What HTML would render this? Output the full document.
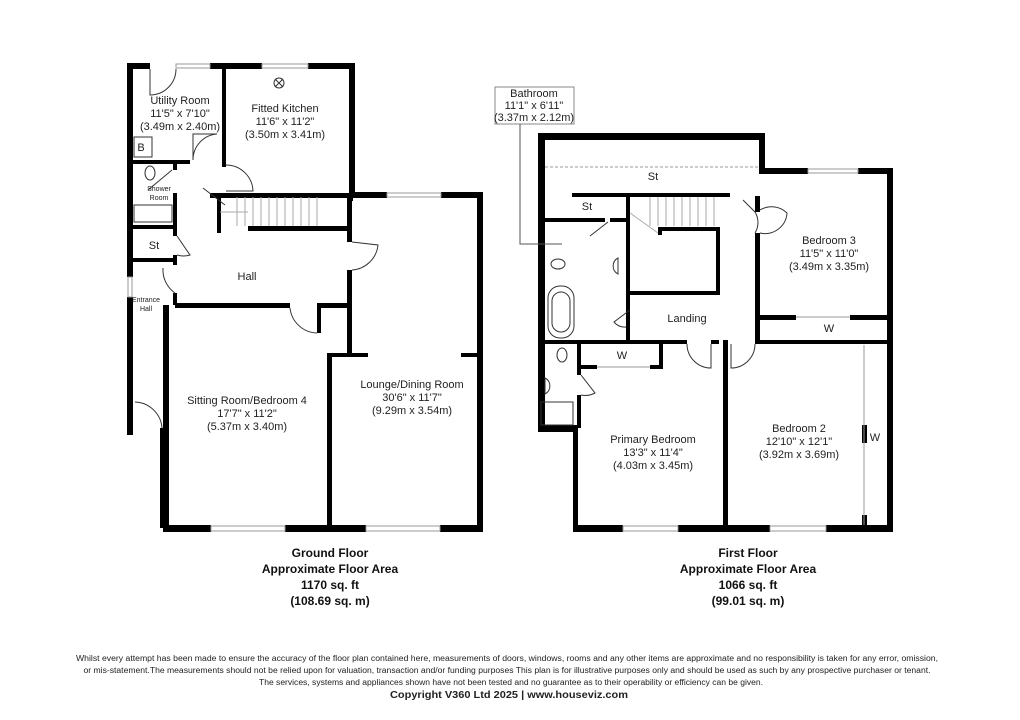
<!DOCTYPE html>
<html><head><meta charset="utf-8"><style>
html,body{margin:0;padding:0;background:#fff;}
svg{display:block;font-family:"Liberation Sans",sans-serif;}
</style></head><body>
<svg width="1020" height="720" viewBox="0 0 1020 720" xmlns="http://www.w3.org/2000/svg">
<g fill="#000">
<rect x="127" y="63" width="6" height="214"/>
<rect x="127" y="297" width="6" height="138"/>
<rect x="127" y="63" width="23" height="6"/>
<rect x="210" y="63" width="52" height="6"/>
<rect x="308" y="63" width="47" height="6"/>
<rect x="349" y="63" width="6" height="134"/>
<rect x="349" y="192" width="38" height="6"/>
<rect x="441" y="192" width="42" height="6"/>
<rect x="477" y="192" width="6" height="340"/>
<rect x="163" y="525" width="48" height="7"/>
<rect x="285" y="525" width="81" height="7"/>
<rect x="440" y="525" width="43" height="7"/>
<rect x="163" y="305" width="6" height="225"/>
<rect x="160" y="428" width="5" height="100"/>
<rect x="327" y="353" width="5" height="175"/>
<rect x="327" y="353" width="41" height="4"/>
<rect x="461" y="353" width="16" height="4"/>
<rect x="347" y="197" width="5" height="45"/>
<rect x="347" y="270" width="5" height="86"/>
<rect x="175" y="303" width="115" height="5"/>
<rect x="318" y="303" width="34" height="5"/>
<rect x="317" y="303" width="4" height="30"/>
<rect x="222" y="63" width="4" height="104"/>
<rect x="133" y="160" width="57" height="4"/>
<rect x="210" y="193" width="140" height="5"/>
<rect x="217" y="195" width="4" height="38"/>
<rect x="248" y="226" width="100" height="5"/>
<rect x="173" y="162" width="4" height="8"/>
<rect x="173" y="193" width="4" height="35"/>
<rect x="133" y="225" width="44" height="4"/>
<rect x="173" y="228" width="4" height="8"/>
<rect x="173" y="255" width="4" height="10"/>
<rect x="133" y="258" width="44" height="4"/>
<rect x="173" y="293" width="4" height="12"/>
<rect x="349" y="193" width="4" height="8"/>
<rect x="538" y="133" width="7" height="297"/>
<rect x="538" y="133" width="227" height="7"/>
<rect x="759" y="133" width="6" height="40"/>
<rect x="759" y="168" width="49" height="6"/>
<rect x="858" y="168" width="35" height="6"/>
<rect x="887" y="168" width="6" height="364"/>
<rect x="573" y="525" width="50" height="7"/>
<rect x="678" y="525" width="92" height="7"/>
<rect x="826" y="525" width="67" height="7"/>
<rect x="538" y="425" width="40" height="7"/>
<rect x="573" y="425" width="5" height="107"/>
<rect x="572" y="193" width="158" height="4"/>
<rect x="545" y="218" width="60" height="4"/>
<rect x="610" y="218" width="18" height="4"/>
<rect x="626" y="196" width="4" height="100"/>
<rect x="626" y="296" width="4" height="48"/>
<rect x="658" y="227" width="62" height="4"/>
<rect x="716" y="227" width="4" height="68"/>
<rect x="628" y="291" width="92" height="4"/>
<rect x="658" y="227" width="4" height="8"/>
<rect x="755" y="196" width="5" height="16"/>
<rect x="755" y="233" width="5" height="110"/>
<rect x="760" y="315" width="36" height="5"/>
<rect x="850" y="315" width="43" height="5"/>
<rect x="545" y="340" width="142" height="4"/>
<rect x="711" y="340" width="8" height="4"/>
<rect x="723" y="340" width="5" height="188"/>
<rect x="755" y="340" width="138" height="4"/>
<rect x="577" y="343" width="4" height="32"/>
<rect x="577" y="395" width="4" height="33"/>
<rect x="659" y="343" width="4" height="25"/>
<rect x="577" y="365" width="20" height="4"/>
<rect x="650" y="365" width="13" height="4"/>
<rect x="862" y="425" width="5" height="18"/>
<rect x="862" y="515" width="5" height="12"/>
</g>
<g stroke="#999" stroke-width="1" fill="none">
<rect x="176" y="64" width="34" height="4"/><rect x="262" y="64" width="46" height="4"/>
<rect x="387" y="193" width="54" height="4"/><rect x="211" y="526" width="74" height="5"/>
<rect x="366" y="526" width="74" height="5"/><rect x="128" y="277" width="4" height="20"/>
<rect x="808" y="169" width="50" height="4"/><rect x="623" y="526" width="55" height="5"/>
<rect x="770" y="526" width="56" height="5"/>
<line x1="796" y1="317" x2="850" y2="317"/>
<line x1="597" y1="367" x2="650" y2="367"/>
<line x1="864" y1="345" x2="864" y2="525"/>
<line x1="545" y1="167" x2="760" y2="167" stroke-dasharray="3,2"/>
<g stroke="#aaa">
<line x1="237" y1="197" x2="237" y2="226"/><line x1="245" y1="197" x2="245" y2="226"/>
<line x1="253" y1="197" x2="253" y2="226"/><line x1="261" y1="197" x2="261" y2="226"/>
<line x1="269" y1="197" x2="269" y2="226"/><line x1="277" y1="197" x2="277" y2="226"/>
<line x1="285" y1="197" x2="285" y2="226"/><line x1="293" y1="197" x2="293" y2="226"/>
<line x1="301" y1="197" x2="301" y2="226"/><line x1="309" y1="197" x2="309" y2="226"/>
<line x1="317" y1="197" x2="317" y2="226"/><line x1="220" y1="212" x2="248" y2="212"/>
<line x1="650" y1="197" x2="650" y2="226"/><line x1="658" y1="197" x2="658" y2="226"/>
<line x1="666" y1="197" x2="666" y2="226"/><line x1="674" y1="197" x2="674" y2="226"/>
<line x1="682" y1="197" x2="682" y2="226"/><line x1="690" y1="197" x2="690" y2="226"/>
<line x1="698" y1="197" x2="698" y2="226"/><line x1="706" y1="197" x2="706" y2="226"/>
<line x1="714" y1="197" x2="714" y2="226"/><line x1="630" y1="213" x2="658" y2="233"/>
</g>
</g>
<g stroke="#333" stroke-width="1" fill="none">
<path d="M150 69 L150 95 A26 26 0 0 0 176 69"/>
<path d="M217 134 L193 134 L193 160 A26 26 0 0 1 217 134"/>
<path d="M226 165 A27 27 0 0 1 253 191 L226 191"/>
<path d="M352 242 L378 245 A28 28 0 0 1 352 270"/>
<path d="M290 308 A28 28 0 0 0 317 333"/>
<path d="M135 402 A28 28 0 0 1 162 428"/>
<path d="M148 190 L172 170"/>
<path d="M177 236 L190 255 A22 22 0 0 1 177 255"/>
<path d="M163 268 A28 28 0 0 0 175 293"/>
<path d="M203 188 L225 205"/>
<path d="M743 200 L755 212 M755 212 A20 20 0 0 1 755 233"/>
<path d="M760 210 A22 22 0 0 1 787 213 A22 22 0 0 1 760 233"/>
<path d="M590 236 L608 222"/>
<path d="M630 310 L614 322 A14 14 0 0 0 626 327"/>
<path d="M687 344 A24 24 0 0 0 711 368 L711 344"/>
<path d="M755 344 A24 24 0 0 1 731 368 L731 344"/>
<path d="M581 375 L595 393 A20 20 0 0 1 581 395"/>
<circle cx="279" cy="83" r="5"/><path d="M275 79 L283 87 M283 79 L275 87"/>
<rect x="134" y="205" width="38" height="17"/>
<rect x="541" y="402" width="32" height="23"/>
<ellipse cx="150" cy="173" rx="5" ry="7"/>
<ellipse cx="558" cy="264" rx="7" ry="5"/>
<ellipse cx="562" cy="355" rx="5" ry="7"/>
<rect x="548" y="286" width="26" height="52" rx="12"/>
<rect x="552" y="292" width="18" height="40" rx="9"/>
<path d="M618 258 A9 9 0 0 0 618 274 Z"/>
<path d="M545 378 A9 9 0 0 1 545 394 Z"/>
<rect x="134" y="137" width="18" height="20"/>
<rect x="495" y="87" width="79" height="37" stroke="#888"/>
<path d="M520 124 L520 244 L562 244" stroke="#555"/>
</g>
<g font-size="11" text-anchor="middle" fill="#222">
<text x="180" y="104">Utility Room</text><text x="180" y="117">11'5" x 7'10"</text><text x="180" y="130">(3.49m x 2.40m)</text>
<text x="285" y="112">Fitted Kitchen</text><text x="285" y="125">11'6" x 11'2"</text><text x="285" y="138">(3.50m x 3.41m)</text>
<text x="141" y="151">B</text>
<text x="154" y="249">St</text>
<text x="247" y="280">Hall</text>
<text x="247" y="404">Sitting Room/Bedroom 4</text><text x="247" y="417">17'7" x 11'2"</text><text x="247" y="430">(5.37m x 3.40m)</text>
<text x="412" y="388">Lounge/Dining Room</text><text x="412" y="401">30'6" x 11'7"</text><text x="412" y="414">(9.29m x 3.54m)</text>
<text x="534" y="97">Bathroom</text><text x="534" y="109">11'1" x 6'11"</text><text x="534" y="121">(3.37m x 2.12m)</text>
<text x="653" y="180">St</text><text x="587" y="210">St</text>
<text x="687" y="322">Landing</text>
<text x="829" y="244">Bedroom 3</text><text x="829" y="257">11'5" x 11'0"</text><text x="829" y="270">(3.49m x 3.35m)</text>
<text x="829" y="332">W</text><text x="622" y="359">W</text>
<text x="875" y="441">W</text>
<text x="653" y="443">Primary Bedroom</text><text x="653" y="456">13'3" x 11'4"</text><text x="653" y="469">(4.03m x 3.45m)</text>
<text x="799" y="432">Bedroom 2</text><text x="799" y="445">12'10" x 12'1"</text><text x="799" y="458">(3.92m x 3.69m)</text>
</g>
<g font-size="7" text-anchor="middle" fill="#222">
<text x="159" y="191">Shower</text><text x="159" y="200">Room</text>
<text x="146" y="302">Entrance</text><text x="146" y="311">Hall</text>
</g>
<g font-size="12" font-weight="bold" text-anchor="middle" fill="#111">
<text x="330" y="557">Ground Floor</text><text x="330" y="573">Approximate Floor Area</text><text x="330" y="589">1170 sq. ft</text><text x="330" y="605">(108.69 sq. m)</text>
<text x="748" y="557">First Floor</text><text x="748" y="573">Approximate Floor Area</text><text x="748" y="589">1066 sq. ft</text><text x="748" y="605">(99.01 sq. m)</text>
</g>
<g font-size="8" fill="#222" text-anchor="middle">
<text x="507" y="661" textLength="862" lengthAdjust="spacingAndGlyphs">Whilst every attempt has been made to ensure the accuracy of the floor plan contained here, measurements of doors, windows, rooms and any other items are approximate and no responsibility is taken for any error, omission,</text>
<text x="507" y="673" textLength="847" lengthAdjust="spacingAndGlyphs">or mis-statement.The measurements should not be relied upon for valuation, transaction and/or funding purposes This plan is for illustrative purposes only and should be used as such by any prospective purchaser or tenant.</text>
<text x="511" y="685" textLength="504" lengthAdjust="spacingAndGlyphs">The services, systems and appliances shown have not been tested and no guarantee as to their operability or efficiency can be given.</text>
<text x="509" y="698" font-size="10" font-weight="bold" textLength="238" lengthAdjust="spacingAndGlyphs">Copyright V360 Ltd 2025 | www.houseviz.com</text>
</g>
</svg>
</body></html>
